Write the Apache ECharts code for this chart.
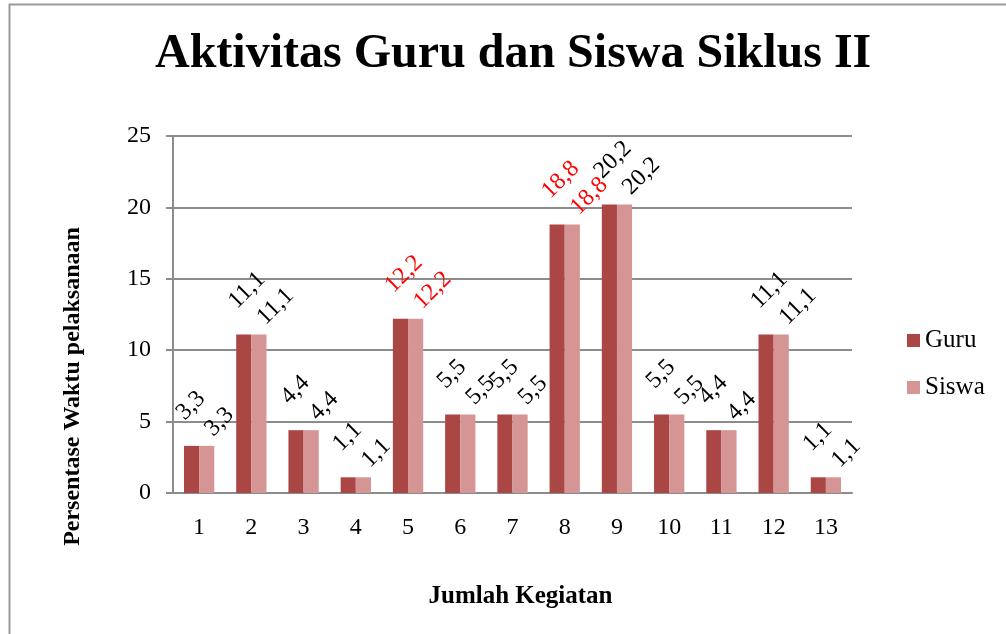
<!DOCTYPE html>
<html>
<head>
<meta charset="utf-8">
<script src="https://cdn.jsdelivr.net/npm/echarts@6/dist/echarts.min.js"></script>
<style>
  html, body { margin: 0; padding: 0; background: #fff; }
  #main { width: 1006px; height: 634px; }
</style>
</head>
<body>
<div id="main"></div>
<script>
// data
const kegiatan = ['1', '2', '3', '4', '5', '6', '7', '8', '9', '10', '11', '12', '13']
const guru = [3.3, 11.1, 4.4, 1.1, 12.2, 5.5, 5.5, 18.8, 20.2, 5.5, 4.4, 11.1, 1.1]
const siswa = [3.3, 11.1, 4.4, 1.1, 12.2, 5.5, 5.5, 18.8, 20.2, 5.5, 4.4, 11.1, 1.1]
// categories whose labels are red
const redLabels = ['5', '8']

const serif = '"Liberation Serif", "DejaVu Serif", serif'

function withColors (values) {
  return values.map((v, i) => {
    if (redLabels.indexOf(kegiatan[i]) >= 0) {
      return { value: v, label: { color: '#ff0000' } }
    }
    return v
  })
}

// offset is in the label's rotated frame
function barLabel (offset) {
  return {
    show: true,
    position: 'top',
    distance: 0,
    rotate: 45,
    align: 'left',
    verticalAlign: 'middle',
    offset: offset,
    color: '#000',
    fontFamily: serif,
    fontSize: 24,
    formatter: p => String(p.value).replace('.', ',')
  }
}

const chart = echarts.init(document.getElementById('main'))
chart.setOption({
  animation: false,
  backgroundColor: '#fff',
  textStyle: { fontFamily: serif },
  title: {
    text: 'Aktivitas Guru dan Siswa Siklus II',
    left: 150,
    top: 26,
    textStyle: { fontFamily: serif, fontSize: 48, fontWeight: 'bold', color: '#000' }
  },
  graphic: [{
    type: 'rect',
    shape: { x: 9.5, y: 4.5, width: 1020, height: 660 },
    style: { fill: 'none', stroke: '#9a9a9a', lineWidth: 2 },
    silent: true
  }],
  legend: {
    orient: 'vertical',
    left: 902,
    top: 323,
    itemWidth: 13,
    itemHeight: 13,
    itemGap: 22,
    icon: 'rect',
    textStyle: { fontFamily: serif, fontSize: 25, color: '#000' },
    data: ['Guru', 'Siswa']
  },
  grid: { left: 173, right: 154, top: 136, bottom: 141 },
  xAxis: {
    type: 'category',
    data: kegiatan,
    name: 'Jumlah Kegiatan',
    nameLocation: 'middle',
    nameGap: 91,
    nameTextStyle: {
      fontFamily: serif, fontSize: 25, fontWeight: 'bold', color: '#000',
      padding: [0, 0, 0, 16]
    },
    axisLine: { lineStyle: { color: '#8c8c8c', width: 2 } },
    axisTick: { show: false },
    axisLabel: { fontFamily: serif, fontSize: 24, color: '#000', margin: 23 }
  },
  yAxis: {
    type: 'value',
    min: 0,
    max: 25,
    interval: 5,
    name: 'Persentase Waktu pelaksanaan',
    nameLocation: 'middle',
    nameGap: 88,
    nameTextStyle: {
      fontFamily: serif, fontSize: 24, fontWeight: 'bold', color: '#000',
      padding: [0, 144, 0, 0]
    },
    axisLine: { show: true, lineStyle: { color: '#8c8c8c', width: 2 } },
    axisTick: { show: true, length: 7, lineStyle: { color: '#8c8c8c', width: 2 } },
    axisLabel: { fontFamily: serif, fontSize: 24, color: '#000', margin: 22 },
    splitLine: { lineStyle: { color: '#8c8c8c', width: 2 } }
  },
  series: [{
    name: 'Guru',
    type: 'bar',
    data: withColors(guru),
    barGap: '0%',
    barCategoryGap: '42%',
    itemStyle: { color: '#aa4744' },
    label: barLabel([13, -29])
  }, {
    name: 'Siswa',
    type: 'bar',
    data: withColors(siswa),
    itemStyle: { color: '#d59594' },
    label: barLabel([11, -8])
  }]
})
</script>
</body>
</html>
